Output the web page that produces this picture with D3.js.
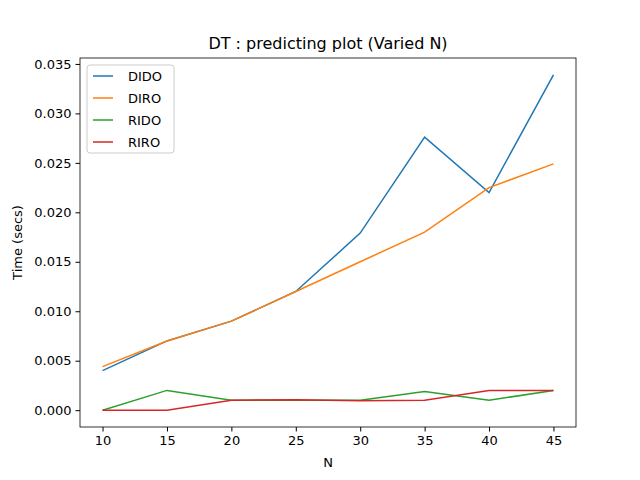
<!DOCTYPE html>
<html><head><meta charset="utf-8">
<script src="https://cdn.jsdelivr.net/npm/d3@7"></script>
<style>body{margin:0;background:#fff}text{font-family:"DejaVu Sans",sans-serif}</style>
</head><body><div id="chart"></div>
<script>
const nVals = [10,15,20,25,30,35,40,45];
const dido = [0.0040,0.0070,0.0090,0.0120,0.0179,0.0276,0.0220,0.0339];
const diro = [0.0044,0.0070,0.0090,0.0120,0.0150,0.0180,0.0225,0.0249];
const rido = [0.0000,0.0020,0.0010,0.0010,0.0010,0.0019,0.0010,0.0020];
const riro = [0.0000,0.0000,0.0010,0.00105,0.00095,0.0010,0.0020,0.0020];
const names = ["DIDO","DIRO","RIDO","RIRO"];
const colors = ["#1f77b4","#ff7f0e","#2ca02c","#d62728"];
const yTicks = [0,0.005,0.01,0.015,0.02,0.025,0.03,0.035];

const w=640,h=480,m={l:80,r:64,t:58,b:53};
const svg=d3.select("#chart").append("svg").attr("width",w).attr("height",h);
const x=d3.scaleLinear().domain([8.25,46.75]).range([m.l,w-m.r]);
const y=d3.scaleLinear().domain([-0.0017,0.0356]).range([h-m.b,m.t]);

const xa=svg.append("g").attr("transform",`translate(0,${h-m.b})`)
  .call(d3.axisBottom(x).tickValues(nVals).tickSize(4.5).tickPadding(4));
const ya=svg.append("g").attr("transform",`translate(${m.l},0)`)
  .call(d3.axisLeft(y).tickValues(yTicks).tickFormat(d3.format(".3f")).tickSize(4.5).tickPadding(4));
[xa,ya].forEach(a=>{a.select(".domain").remove();a.selectAll("text").attr("font-size",13).attr("fill","#000");a.selectAll("line").attr("stroke","#000")});
svg.append("rect").attr("x",m.l).attr("y",m.t).attr("width",w-m.l-m.r).attr("height",h-m.t-m.b)
  .attr("fill","none").attr("stroke","#000").attr("stroke-width",0.8);

const line=d3.line().x((d,i)=>x(nVals[i])).y(d=>y(d));
[dido,diro,rido,riro].forEach((s,k)=>{
  svg.append("path").datum(s).attr("d",line).attr("fill","none").attr("stroke",colors[k]).attr("stroke-width",1.5);
});

svg.append("text").attr("x",(m.l+w-m.r)/2).attr("y",m.t-9).attr("text-anchor","middle").attr("font-size",16).text("DT : predicting plot (Varied N)");
svg.append("text").attr("x",(m.l+w-m.r)/2).attr("y",h-13).attr("text-anchor","middle").attr("font-size",13).text("N");
svg.append("text").attr("transform",`translate(22,${(m.t+h-m.b)/2}) rotate(-90)`).attr("text-anchor","middle").attr("font-size",13).text("Time (secs)");

const lg=svg.append("g").attr("transform",`translate(${m.l+7},${m.t+7})`);
lg.append("rect").attr("width",87).attr("height",88).attr("rx",3).attr("fill","#fff").attr("stroke","#ccc");
names.forEach((n,i)=>{
  const g=lg.append("g").attr("transform",`translate(0,${11+i*22})`);
  g.append("line").attr("x1",6).attr("x2",26).attr("stroke",colors[i]).attr("stroke-width",1.5);
  g.append("text").attr("x",41).attr("y",5).attr("font-size",13).text(n);
});
</script></body></html>
